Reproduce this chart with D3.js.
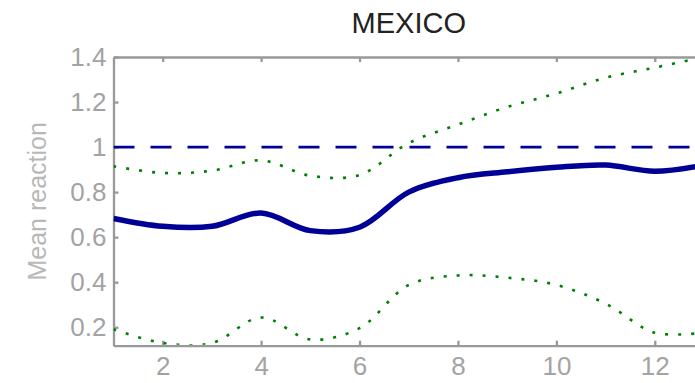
<!DOCTYPE html>
<html>
<head>
<meta charset="utf-8">
<script src="https://cdn.jsdelivr.net/npm/d3@7"></script>
<style>
  body { margin: 0; background: #fff; }
  svg { display: block; font-family: "Liberation Sans", Arial, sans-serif; }
  .axis path, .axis line { stroke: #999; stroke-width: 2.3; }
  .axis text { fill: #a3a3a3; font-size: 26px; }
</style>
</head>
<body>
<div id="chart"></div>
<script>
// horizonte (periodos)
const periods = [1, 2, 3, 4, 5, 6, 7, 8, 9, 10, 11, 12, 13];
// reaccion media
const meanReaction = [0.683, 0.648, 0.648, 0.707, 0.629, 0.644, 0.80, 0.864, 0.89, 0.91, 0.92, 0.893, 0.92];
// bandas de confianza
const upperBand = [0.915, 0.885, 0.895, 0.941, 0.873, 0.876, 1.018, 1.10, 1.178, 1.238, 1.308, 1.353, 1.40];
const lowerBand = [0.191, 0.13, 0.13, 0.243, 0.146, 0.196, 0.388, 0.43, 0.42, 0.388, 0.305, 0.176, 0.176];
const reference = 1;
const yTicks = [0.2, 0.4, 0.6, 0.8, 1, 1.2, 1.4];
const yTickLabels = ["0.2", "0.4", "0.6", "0.8", "1", "1.2", "1.4"];
const xTicks = [2, 4, 6, 8, 10, 12];

const W = 695, H = 383;
const margin = { top: 57, left: 113.5 };
const plotW = 590.5, plotH = 288.7;

const svg = d3.select("#chart").append("svg")
  .attr("width", W).attr("height", H);

svg.append("defs").append("clipPath").attr("id", "plot-clip")
  .append("rect").attr("x", 0).attr("y", -4).attr("width", plotW).attr("height", plotH + 3);

const g = svg.append("g").attr("transform", `translate(${margin.left}, ${margin.top})`);

const x = d3.scaleLinear().domain([1, 13]).range([0, plotW]);
const y = d3.scaleLinear().domain([0.118, 1.4]).range([plotH, 0]);

// Ejes
g.append("g").attr("class", "axis")
  .attr("transform", `translate(0, ${plotH})`)
  .call(d3.axisBottom(x).tickValues(xTicks).tickSize(-5).tickSizeOuter(0).tickPadding(11));

g.append("g").attr("class", "axis")
  .call(d3.axisTop(x).tickValues(xTicks).tickSize(-5).tickSizeOuter(0).tickFormat(""));

g.append("g").attr("class", "axis")
  .call(d3.axisLeft(y).tickValues(yTicks).tickSize(-5).tickSizeOuter(0).tickPadding(7)
    .tickFormat((d, i) => yTickLabels[i]));

g.selectAll(".axis text").attr("font-family", null);

// Lineas
const line = arr => d3.line()
  .x((d, i) => x(periods[i]))
  .y(d => y(d))
  .curve(d3.curveCatmullRom.alpha(0.5))(arr);

const lines = g.append("g").attr("clip-path", "url(#plot-clip)");

lines.append("line")
  .attr("x1", x(1)).attr("x2", x(13))
  .attr("y1", y(reference)).attr("y2", y(reference))
  .attr("stroke", "#000096").attr("stroke-width", 2.6)
  .attr("stroke-dasharray", "21 16");

lines.append("path").attr("d", line(upperBand))
  .attr("fill", "none").attr("stroke", "#008000").attr("stroke-width", 2.6)
  .attr("stroke-dasharray", "3 10");

lines.append("path").attr("d", line(lowerBand))
  .attr("fill", "none").attr("stroke", "#008000").attr("stroke-width", 2.6)
  .attr("stroke-dasharray", "3 10");

lines.append("path").attr("d", line(meanReaction))
  .attr("fill", "none").attr("stroke", "#000096").attr("stroke-width", 5.5)
  .attr("stroke-linejoin", "round");

// Titulo
svg.append("text")
  .attr("x", margin.left + plotW / 2).attr("y", 33)
  .attr("text-anchor", "middle")
  .style("font-size", "29px").style("fill", "#222")
  .text("MEXICO");

// Etiqueta eje Y
svg.append("text")
  .attr("transform", `translate(46, ${margin.top + plotH / 2}) rotate(-90)`)
  .attr("text-anchor", "middle")
  .style("font-size", "25px").style("fill", "#b8b8b8")
  .text("Mean reaction");
</script>
</body>
</html>
